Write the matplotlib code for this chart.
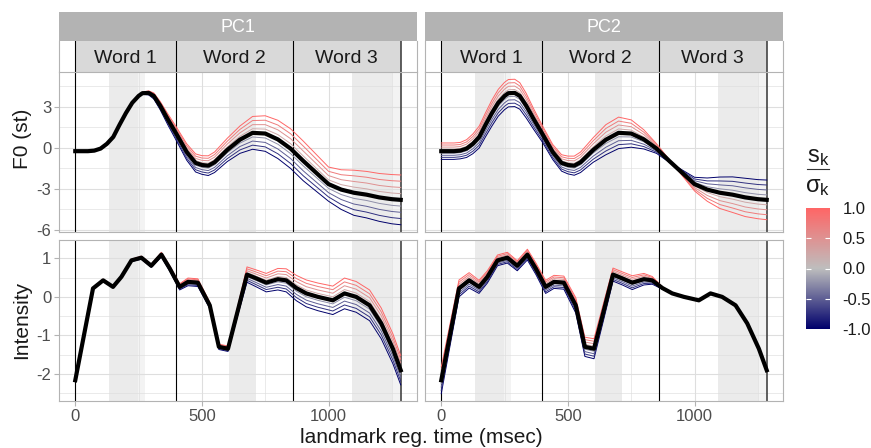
import numpy as np
import matplotlib.pyplot as plt
from matplotlib.colors import LinearSegmentedColormap
from matplotlib.lines import Line2D

plt.rcParams['font.family'] = ['Liberation Sans', 'DejaVu Sans']
plt.rcParams['mathtext.fontset'] = 'custom'
plt.rcParams['mathtext.rm'] = 'Liberation Sans'
plt.rcParams['mathtext.it'] = 'Liberation Sans'
plt.rcParams['axes.unicode_minus'] = False

# F0 mean curve and the two principal component functions (s/sigma = 1)
t_f0 = [0, 50, 75, 100, 125, 150, 175, 200, 225, 250, 265, 290, 310, 335, 365, 400, 440, 475, 500,
        525, 550, 575, 600, 650, 700, 750, 800, 850, 900, 950, 1000, 1050, 1100, 1150, 1200, 1250, 1285]
f0_mean = [-0.24, -0.24, -0.2, -0.05, 0.3, 0.8, 1.7, 2.55, 3.3, 3.8, 4.0, 4.02, 3.8, 3.1, 2.1, 1.0, -0.3,
           -1.1, -1.25, -1.3, -1.05, -0.6, -0.15, 0.6, 1.1, 1.05, 0.62, -0.05, -0.95, -1.8, -2.65, -3.05,
           -3.28, -3.42, -3.62, -3.75, -3.8]
f0_pc1 = [0.0, 0.0, 0.0, 0.0, 0.0, 0.0, 0.01, 0.02, 0.03, 0.05, 0.08, 0.15, 0.22, 0.3, 0.4, 0.5, 0.6,
          0.66, 0.68, 0.72, 0.75, 0.8, 0.85, 1.0, 1.2, 1.3, 1.4, 1.45, 1.45, 1.35, 1.25, 1.45, 1.65,
          1.7, 1.75, 1.8, 1.82]
f0_pc2 = [0.6, 0.6, 0.6, 0.65, 0.72, 0.8, 0.88, 0.95, 0.98, 1.0, 1.0, 1.0, 0.97, 0.9, 0.75, 0.6, 0.55,
          0.6, 0.65, 0.7, 0.75, 0.82, 0.9, 1.1, 1.15, 1.0, 0.7, 0.35, 0.1, -0.2, -0.5, -0.85, -1.15,
          -1.3, -1.4, -1.43, -1.45]

# intensity mean curve and components, at the landmark times
t_int = [0, 70, 110, 149, 182, 222, 261, 300, 340, 373, 412, 445, 484, 531, 567, 603,
         642, 678, 715, 754, 800, 833, 873, 912, 958, 1017, 1063, 1109, 1162, 1208, 1254, 1285]
int_mean = [-2.17, 0.22, 0.43, 0.26, 0.52, 0.95, 1.02, 0.81, 1.10, 0.74, 0.26, 0.39, 0.37, -0.22, -1.30, -1.35,
            -0.35, 0.58, 0.48, 0.37, 0.46, 0.43, 0.23, 0.09, 0.0, -0.09, 0.09, 0.0, -0.22, -0.69, -1.35, -1.91]
int_pc1 = [0.02, 0.02, 0.03, 0.02, 0.02, 0.03, 0.04, 0.04, 0.06, 0.07, 0.08, 0.1, 0.1, 0.08, 0.07, 0.07,
           0.12, 0.2, 0.22, 0.24, 0.28, 0.3, 0.33, 0.35, 0.36, 0.37, 0.4, 0.4, 0.4, 0.4, 0.39, 0.38]
int_pc2 = [0.35, 0.22, 0.2, 0.17, 0.16, 0.14, 0.14, 0.13, 0.14, 0.15, 0.17, 0.17, 0.17, 0.2, 0.25, 0.26,
           0.22, 0.17, 0.17, 0.18, 0.15, 0.1, 0.03, 0.01, 0.0, 0.0, 0.0, 0.0, 0.01, 0.01, 0.0, 0.0]

scores = [-1.0, -0.75, -0.5, -0.25, 0.0, 0.25, 0.5, 0.75, 1.0]
components = ['PC1', 'PC2']
words = ['Word 1', 'Word 2', 'Word 3']
word_bounds = [0, 396, 858, 1285]
stress_spans = [(133, 247), (607, 712), (1093, 1250)]
stress_tails = [(247, 274), (1250, 1285)]

rows = [
    ('F0 (st)', t_f0, f0_mean, {'PC1': f0_pc1, 'PC2': f0_pc2},
     (-6.15, 5.55), [-6, -3, 0, 3], [-4.5, -1.5, 1.5, 4.5]),
    ('Intensity', t_int, int_mean, {'PC1': int_pc1, 'PC2': int_pc2},
     (-2.71, 1.48), [-2, -1, 0, 1], [-2.5, -1.5, -0.5, 0.5]),
]

cmap = LinearSegmentedColormap.from_list('sk', ['#00006B', '#BEBEBE', '#FF6666'])

W, H = 871, 448
fig = plt.figure(figsize=(W / 100, H / 100), dpi=100)


def box(x0, y0, x1, y1):
    return [x0 / W, 1 - y1 / H, (x1 - x0) / W, (y1 - y0) / H]


col_edges = [(59, 417), (425, 783)]
row_edges = [(72, 232), (240, 401)]
xlim = (-64.25, 1349.25)
border = '#B3B3B3'


def word_lines(ax):
    for b in word_bounds[:-1]:
        ax.axvline(b, color='black', lw=0.8, zorder=1.5)
    ax.axvline(word_bounds[-1], color='#444444', lw=1.2, zorder=1.5)


for j, comp in enumerate(components):
    x0, x1 = col_edges[j]

    # facet strip
    sa = fig.add_axes(box(x0, 12, x1, 41))
    sa.set_facecolor(border)
    sa.set_xticks([])
    sa.set_yticks([])
    for s in sa.spines.values():
        s.set_visible(False)
    sa.text(0.5, 0.48, comp, color='white', ha='center', va='center', fontsize=13,
            transform=sa.transAxes)

    # word labels above the panel
    wa = fig.add_axes(box(x0, 41, x1, 72))
    wa.set_xlim(xlim)
    wa.set_ylim(0, 1)
    wa.axvspan(word_bounds[0], word_bounds[-1], color='#D9D9D9', lw=0)
    word_lines(wa)
    for k, w in enumerate(words):
        wa.text((word_bounds[k] + word_bounds[k + 1]) / 2, 0.45, w, ha='center', va='center',
                fontsize=14, color='#1A1A1A')
    wa.set_xticks([])
    wa.set_yticks([])
    wa.spines['top'].set_visible(False)
    wa.spines['bottom'].set_visible(False)
    wa.spines['left'].set_color(border)
    wa.spines['right'].set_color(border)

    for i, (ylab, tt, mean, pcs, ylim, yt, ymt) in enumerate(rows):
        y0, y1 = row_edges[i]
        ax = fig.add_axes(box(x0, y0, x1, y1))
        ax.set_xlim(xlim)
        ax.set_ylim(ylim)
        ax.set_axisbelow(True)

        for a, b in stress_spans:
            ax.axvspan(a, b, color='#EBEBEB', lw=0, zorder=0.1)
        for a, b in stress_tails:
            ax.axvspan(a, b, color='#F3F3F3', lw=0, zorder=0.1)

        ax.set_xticks([0, 500, 1000])
        ax.set_xticks([250, 750, 1250], minor=True)
        ax.set_yticks(yt)
        ax.set_yticks(ymt, minor=True)
        ax.grid(which='major', color='#DEDEDE', lw=0.8)
        ax.grid(which='minor', color='#DEDEDE', lw=0.45)

        word_lines(ax)

        tt = np.array(tt)
        mean = np.array(mean)
        pc = np.array(pcs[comp])
        for s in scores:
            ax.plot(tt, mean + s * pc, color=cmap((s + 1) / 2), lw=0.7, zorder=2,
                    solid_joinstyle='round')
        ax.plot(tt, mean, color='black', lw=3.0, zorder=3, solid_joinstyle='round')

        for s in ax.spines.values():
            s.set_color(border)
            s.set_linewidth(0.8)
        ax.tick_params(which='major', length=3.5, color=border, labelcolor='#4D4D4D',
                       labelsize=12, pad=2)
        ax.tick_params(which='minor', length=0)
        if j > 0:
            ax.tick_params(axis='y', length=0, labelleft=False)
        if i == 0:
            ax.tick_params(axis='x', length=0, labelbottom=False)

# axis titles
fig.text(22 / W, 1 - 139 / H, 'F0 (st)', rotation=90, ha='center', va='center', fontsize=15,
         color='#1A1A1A')
fig.text(22 / W, 1 - 320 / H, 'Intensity', rotation=90, ha='center', va='center', fontsize=15,
         color='#1A1A1A')
fig.text(421 / W, 1 - 437 / H, 'landmark reg. time (msec)', ha='center', va='center', fontsize=15,
         color='#1A1A1A')

# colour bar legend
cb = fig.add_axes(box(806, 208, 830, 329))
grad = np.linspace(1, -1, 256)[:, None]
cb.imshow(grad, cmap=cmap, vmin=-1, vmax=1, aspect='auto', extent=(0, 1, -1, 1))
cb.set_xlim(0, 1)
cb.set_ylim(-1, 1)
for v in [-0.5, 0.0, 0.5]:
    cb.hlines(v, 0, 0.2, color='white', lw=0.8)
    cb.hlines(v, 0.8, 1, color='white', lw=0.8)
cb.set_xticks([])
cb.yaxis.tick_right()
cb.set_yticks([-1, -0.5, 0, 0.5, 1])
cb.set_yticklabels(['-1.0', '-0.5', '0.0', '0.5', '1.0'])
cb.tick_params(axis='y', length=0, pad=9, labelsize=12, labelcolor='#1A1A1A')
for s in cb.spines.values():
    s.set_visible(False)

fig.text(818 / W, 1 - 157 / H, r'$\mathrm{s_k}$', ha='center', va='center', fontsize=17,
         color='#1A1A1A')
fig.add_artist(Line2D([807 / W, 829 / W], [1 - 169 / H, 1 - 169 / H], color='#333333', lw=0.8))
fig.text(818 / W, 1 - 187 / H, r'$\mathrm{\sigma_k}$', ha='center', va='center', fontsize=17,
         color='#1A1A1A')

fig.savefig('out.png', dpi=100)
